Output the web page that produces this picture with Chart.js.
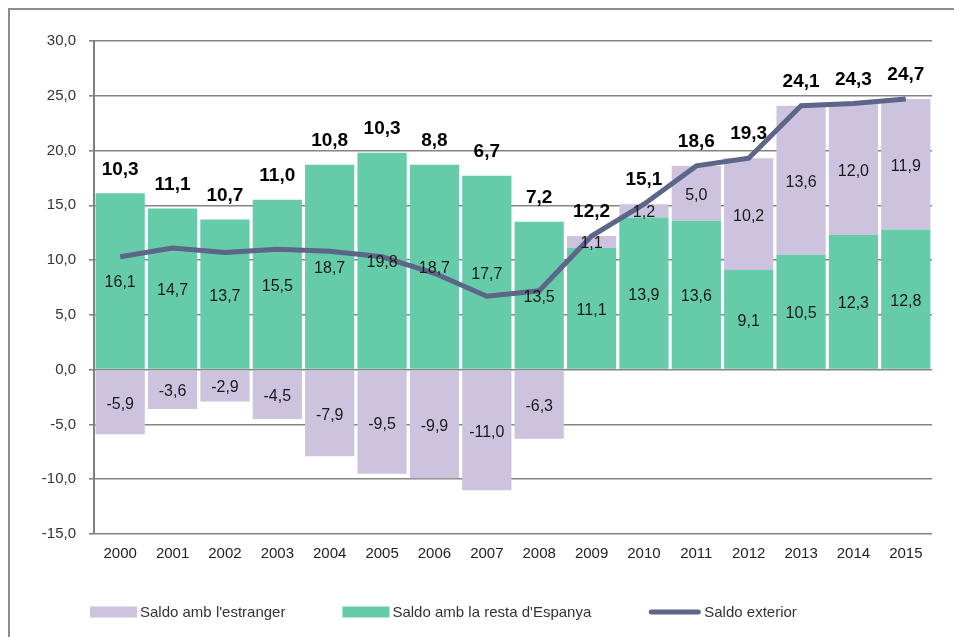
<!DOCTYPE html>
<html>
<head>
<meta charset="utf-8">
<script src="https://cdn.jsdelivr.net/npm/chart.js@4"></script>
<style>
  body { margin: 0; background: #fff; }
  #wrap { position: relative; width: 954px; height: 637px; overflow: hidden; }
  #frame { position: absolute; left: 8px; top: 8px; width: 980px; height: 660px; border: 2px solid #8c8c8c; box-sizing: border-box; }
  canvas { position: absolute; left: 0; top: 0; }
</style>
</head>
<body>
<div id="wrap">
  <div id="frame"></div>
  <canvas id="chart" width="954" height="637"></canvas>
</div>
<script>
// --- Data ---
const years = ['2000', '2001', '2002', '2003', '2004', '2005', '2006', '2007',
               '2008', '2009', '2010', '2011', '2012', '2013', '2014', '2015'];
const saldoEstranger = [-5.9, -3.6, -2.9, -4.5, -7.9, -9.5, -9.9, -11.0,
                        -6.3, 1.1, 1.2, 5.0, 10.2, 13.6, 12.0, 11.9];
const saldoResta = [16.1, 14.7, 13.7, 15.5, 18.7, 19.8, 18.7, 17.7,
                    13.5, 11.1, 13.9, 13.6, 9.1, 10.5, 12.3, 12.8];
const saldoExterior = [10.3, 11.1, 10.7, 11.0, 10.8, 10.3, 8.8, 6.7,
                       7.2, 12.2, 15.1, 18.6, 19.3, 24.1, 24.3, 24.7];
const yTicks = [-15, -10, -5, 0, 5, 10, 15, 20, 25, 30];

const FONT = '"Liberation Sans", Arial, sans-serif';
const fmt = v => v.toFixed(1).replace('.', ',');

// --- Labels inside bars and totals above ---
const valueLabels = {
    id: 'valueLabels',
    afterDatasetsDraw(chart) {
        const ctx = chart.ctx;
        const yScale = chart.scales.y;
        ctx.save();
        ctx.textAlign = 'center';
        ctx.textBaseline = 'middle';
        ctx.font = '16px ' + FONT;
        ctx.fillStyle = '#1a1a1a';
        [0, 1].forEach(di => {
            const meta = chart.getDatasetMeta(di);
            meta.data.forEach((bar, i) => {
                const v = chart.data.datasets[di].data[i];
                const p = bar.getProps(['x', 'y', 'base'], true);
                ctx.fillText(fmt(v), p.x, (p.y + p.base) / 2 + 2);
            });
        });

        // Saldo exterior values, above the positive stack
        ctx.font = 'bold 19px ' + FONT;
        ctx.fillStyle = '#000';
        const barMeta = chart.getDatasetMeta(1);
        saldoExterior.forEach((v, i) => {
            const top = saldoResta[i] + Math.max(0, saldoEstranger[i]);
            ctx.fillText(fmt(v), barMeta.data[i].x, yScale.getPixelForValue(top) - 24);
        });
        ctx.restore();
    }
};

// --- Bottom legend (drawn by hand for the wide spacing) ---
const bottomLegend = {
    id: 'bottomLegend',
    afterDraw(chart) {
        const ctx = chart.ctx;
        const area = chart.chartArea;
        const y = area.bottom + 78;
        const gap = 57;
        let x = area.left - 4;
        ctx.save();
        ctx.font = '15px ' + FONT;
        ctx.textBaseline = 'middle';
        ctx.textAlign = 'left';
        chart.data.datasets.forEach(ds => {
            let boxW;
            if (ds.type === 'line') {
                boxW = 53;
                ctx.strokeStyle = ds.borderColor;
                ctx.lineWidth = 5;
                ctx.lineCap = 'round';
                ctx.beginPath();
                ctx.moveTo(x + 3, y);
                ctx.lineTo(x + boxW - 3, y);
                ctx.stroke();
            } else {
                boxW = 47;
                ctx.fillStyle = ds.backgroundColor;
                ctx.fillRect(x, y - 5.5, boxW, 11);
            }
            ctx.fillStyle = '#333';
            ctx.fillText(ds.label, x + boxW + 3, y + 1);
            x += boxW + 3 + ctx.measureText(ds.label).width + gap;
        });
        ctx.restore();
    }
};

new Chart(document.getElementById('chart'), {
    type: 'bar',
    data: {
        labels: years,
        datasets: [
            {
                label: "Saldo amb l'estranger",
                data: saldoEstranger,
                backgroundColor: '#cdc3df',
                order: 2,
                stack: 'saldo',
                barPercentage: 0.94,
                categoryPercentage: 1.0
            },
            {
                label: "Saldo amb la resta d'Espanya",
                data: saldoResta,
                backgroundColor: '#66cba9',
                order: 1,
                stack: 'saldo',
                barPercentage: 0.94,
                categoryPercentage: 1.0
            },
            {
                type: 'line',
                label: 'Saldo exterior',
                data: saldoExterior,
                borderColor: '#5d6588',
                backgroundColor: '#5d6588',
                borderWidth: 5,
                pointRadius: 0,
                tension: 0,
                order: 0,
                stack: 'total'
            }
        ]
    },
    options: {
        responsive: false,
        animation: false,
        layout: {
            padding: { left: 0, top: 41, right: 22, bottom: 63 }
        },
        plugins: {
            legend: { display: false },
            tooltip: { enabled: false }
        },
        scales: {
            x: {
                stacked: true,
                grid: { display: false, drawTicks: false },
                border: { display: false },
                ticks: {
                    color: '#222',
                    font: { family: FONT, size: 15 },
                    padding: 11,
                    maxRotation: 0
                }
            },
            y: {
                stacked: true,
                min: -15,
                max: 30,
                afterFit: scale => { scale.width = 94; },
                afterBuildTicks: scale => { scale.ticks = yTicks.map(v => ({ value: v })); },
                grid: {
                    color: '#848484',
                    lineWidth: 1.6,
                    tickLength: 5
                },
                border: { color: '#808080', width: 2 },
                ticks: {
                    color: '#333',
                    font: { family: FONT, size: 15 },
                    padding: 13,
                    callback: v => fmt(v)
                }
            }
        }
    },
    plugins: [valueLabels, bottomLegend]
});
</script>
</body>
</html>
